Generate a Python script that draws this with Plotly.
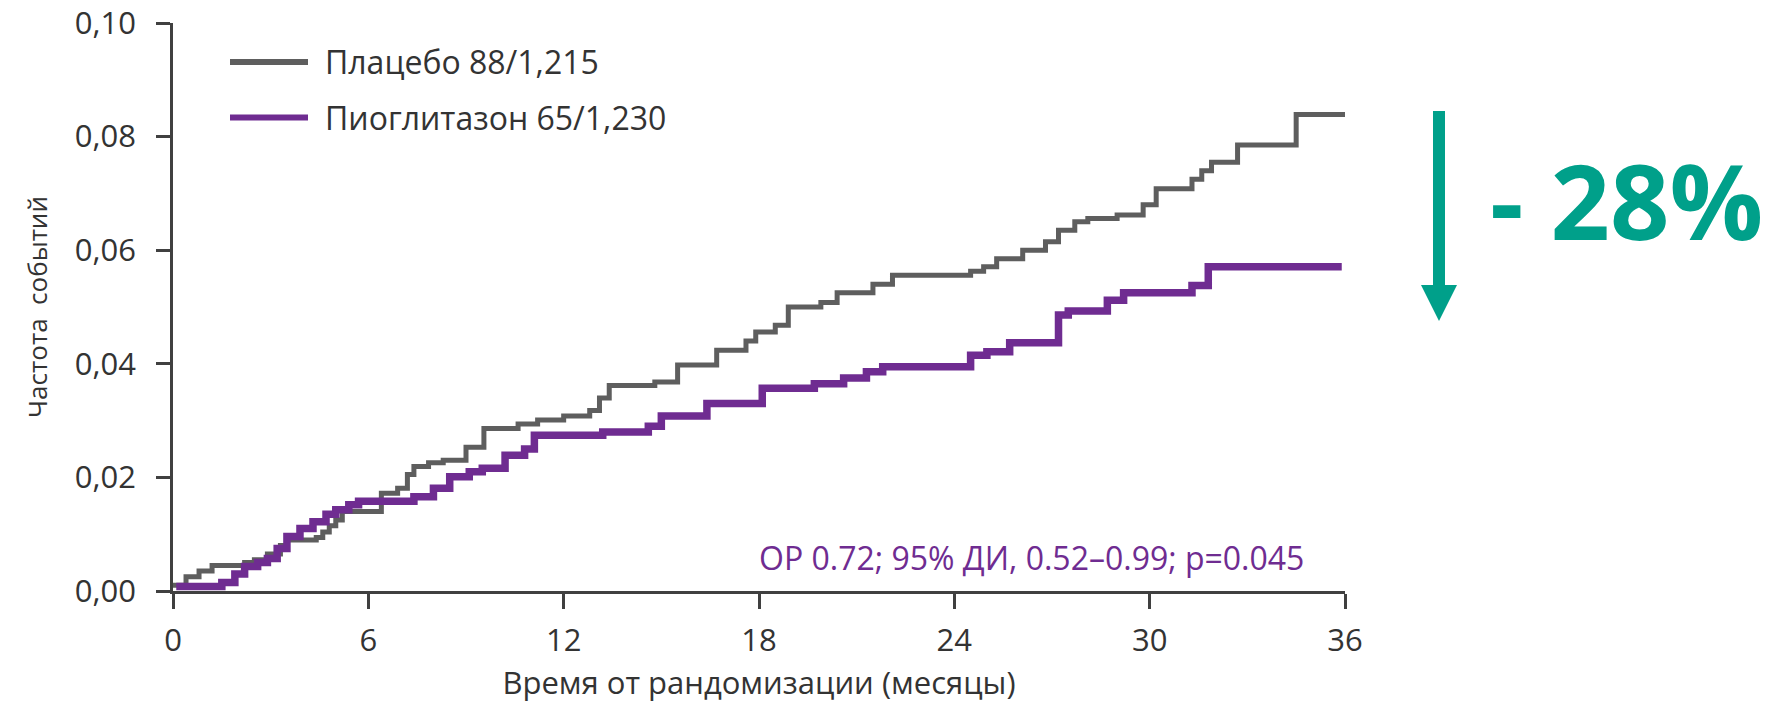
import plotly.graph_objects as go

# Kaplan-Meier style cumulative event rates (months since randomization)
placebo_months = [0, 0.4, 0.8, 1.2, 2.2, 2.5, 2.9, 3.3, 3.5, 4.4, 4.6, 4.8, 5.0, 5.2,
                  6.4, 6.9, 7.2, 7.4, 7.85, 8.3, 9.0, 9.55, 10.6, 11.2, 12.0, 12.8,
                  13.1, 13.4, 14.8, 15.5, 16.7, 17.6, 17.9, 18.5, 18.9, 19.9, 20.4,
                  21.5, 22.1, 24.5, 24.9, 25.3, 26.1, 26.8, 27.2, 27.7, 28.1, 29.0,
                  29.8, 30.2, 31.3, 31.6, 31.9, 32.7, 34.5, 36.0]
placebo_rate = [0.0010, 0.0025, 0.0035, 0.0045, 0.0050, 0.0055, 0.0065, 0.0080, 0.0090,
                0.0094, 0.0104, 0.0115, 0.0125, 0.0140, 0.0172, 0.0181, 0.0205, 0.0219,
                0.0226, 0.0230, 0.0253, 0.0286, 0.0294, 0.0301, 0.0308, 0.0318, 0.0340,
                0.0362, 0.0368, 0.0398, 0.0424, 0.0440, 0.0456, 0.0468, 0.0500, 0.0508,
                0.0525, 0.0540, 0.0556, 0.0563, 0.0571, 0.0585, 0.0600, 0.0615, 0.0635,
                0.0650, 0.0656, 0.0662, 0.0680, 0.0708, 0.0725, 0.0740, 0.0755, 0.0785,
                0.0839, 0.0839]

pio_months = [0.1, 1.5, 1.9, 2.2, 2.6, 2.9, 3.2, 3.5, 3.9, 4.3, 4.7, 5.0, 5.4, 5.7,
              7.4, 8.0, 8.5, 9.1, 9.5, 10.2, 10.8, 11.1, 13.2, 14.6, 15.0, 16.4, 18.1,
              19.7, 20.6, 21.3, 21.8, 24.5, 25.0, 25.7, 27.2, 27.5, 28.7, 29.2, 31.3,
              31.8, 35.9]
pio_rate = [0.0008, 0.0015, 0.0030, 0.0043, 0.0050, 0.0057, 0.0075, 0.0096, 0.0110,
            0.0122, 0.0135, 0.0143, 0.0152, 0.0158, 0.0166, 0.0181, 0.0201, 0.0210,
            0.0216, 0.0239, 0.0250, 0.0274, 0.0280, 0.0290, 0.0308, 0.0330, 0.0357,
            0.0365, 0.0375, 0.0386, 0.0395, 0.0415, 0.0421, 0.0437, 0.0486, 0.0493,
            0.0512, 0.0525, 0.0538, 0.0571, 0.0571]

x_ticks = [0, 6, 12, 18, 24, 30, 36]
y_ticks = [0.00, 0.02, 0.04, 0.06, 0.08, 0.10]
y_tick_text = ["0,00", "0,02", "0,04", "0,06", "0,08", "0,10"]

legend_labels = ["Плацебо 88/1,215", "Пиоглитазон 65/1,230"]
hr_text = "ОР 0.72; 95% ДИ, 0.52–0.99; p=0.045"
reduction_text = "- 28%"

GRAY = "#5e5e5e"
PURPLE = "#6f2c91"
TEAL = "#00a08a"
INK = "#333333"
FONT = "Open Sans"

W, H = 1772, 710
ML, MR, MT, MB = 173, 427, 23, 119
PW, PH = W - ML - MR, H - MT - MB


def px(x):
    return (x - ML) / PW


def py(y):
    return (H - MB - y) / PH


fig = go.Figure()
fig.add_trace(go.Scatter(x=placebo_months, y=placebo_rate, mode="lines",
                         line=dict(color=GRAY, width=5, shape="hv"),
                         name=legend_labels[0], showlegend=False))
fig.add_trace(go.Scatter(x=pio_months, y=pio_rate, mode="lines",
                         line=dict(color=PURPLE, width=7.5, shape="hv"),
                         name=legend_labels[1], showlegend=False))

shapes = []
annotations = []

# legend drawn as line swatches with labels
for i, (lab, col) in enumerate(zip(legend_labels, [GRAY, PURPLE])):
    yy = 62 + i * 55.5
    shapes.append(dict(type="line", xref="paper", yref="paper",
                       x0=px(230), x1=px(308), y0=py(yy), y1=py(yy),
                       line=dict(color=col, width=6)))
    annotations.append(dict(x=px(323), y=py(yy), xref="paper", yref="paper",
                            text=lab, showarrow=False, xanchor="left", yanchor="middle",
                            font=dict(family=FONT, size=32, color=INK)))

# hazard ratio note
annotations.append(dict(x=px(1031), y=py(557), xref="paper", yref="paper",
                        text=hr_text, showarrow=False, xanchor="center", yanchor="middle",
                        font=dict(family=FONT, size=32, color=PURPLE)))

# downward arrow with the relative reduction
shapes.append(dict(type="rect", xref="paper", yref="paper",
                   x0=px(1433), x1=px(1445), y0=py(287), y1=py(111),
                   fillcolor=TEAL, line=dict(width=0)))
shapes.append(dict(type="path", xref="paper", yref="paper",
                   path=f"M {px(1421)} {py(285)} L {px(1457)} {py(285)} L {px(1439)} {py(321)} Z",
                   fillcolor=TEAL, line=dict(width=0)))
annotations.append(dict(x=px(1626), y=py(199), xref="paper", yref="paper",
                        text=f"<b>{reduction_text}</b>", showarrow=False,
                        xanchor="center", yanchor="middle",
                        font=dict(family=FONT, size=104, color=TEAL)))

fig.update_layout(
    width=W, height=H,
    margin=dict(l=ML, r=MR, t=MT, b=MB, pad=0),
    paper_bgcolor="white", plot_bgcolor="white",
    shapes=shapes, annotations=annotations,
    font=dict(family=FONT, color=INK),
    xaxis=dict(range=[0, 36], tickvals=x_ticks, ticks="outside", ticklen=15, tickwidth=2.5,
               tickcolor="#404040", showline=True, linecolor="#404040", linewidth=2.5,
               showgrid=False, zeroline=False, tickfont=dict(size=31, color=INK),
               ticklabelstandoff=5, automargin=False,
               title=dict(text="Время от рандомизации (месяцы)", standoff=14,
                          font=dict(size=31, color=INK))),
    yaxis=dict(range=[0, 0.1], tickvals=y_ticks, ticktext=y_tick_text, ticks="outside",
               ticklen=14, tickwidth=2.5, tickcolor="#404040", showline=True,
               linecolor="#404040", linewidth=2.5, showgrid=False, zeroline=False,
               tickfont=dict(size=31, color=INK), ticklabelstandoff=14, automargin=False,
               title=dict(text="Частота  событий", standoff=20,
                          font=dict(size=26, color=INK))),
)

fig.write_html("out.html")
